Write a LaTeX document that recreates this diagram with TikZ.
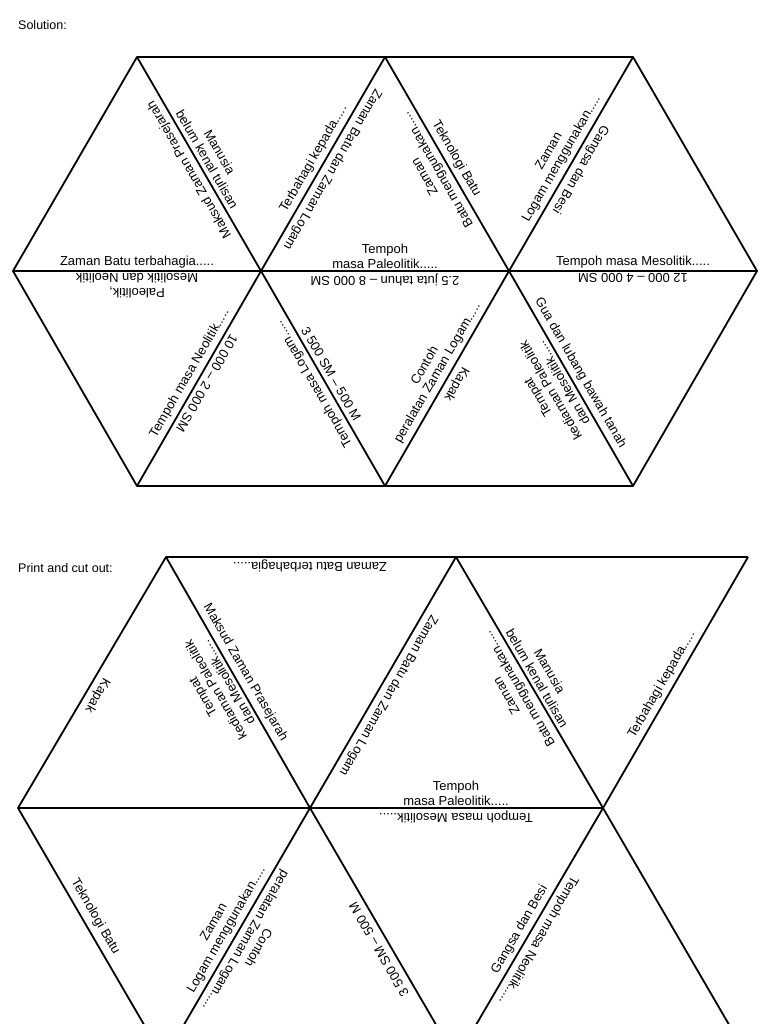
\documentclass[tikz,border=0pt]{standalone}
\usepackage{fontspec}
\setmainfont{Liberation Sans}
\usetikzlibrary{calc}
\newcommand\elab[4]{\begin{scope}[shift={#2},rotate=#3]\node[lbl,transform shape] (#1) at (0,0) {#4};\end{scope}}
\newcommand\hlab[4]{\begin{scope}[shift={#2},rotate=#3]\node[lbl,inner ysep=2.5pt,transform shape] (#1) at (0,0) {#4};\end{scope}}
\begin{document}
\begin{tikzpicture}[x=1pt,y=1pt,
  edge/.style={line width=1.8pt, line join=round},
  lbl/.style={font=\fontsize{13}{14.5}\selectfont, align=center, inner xsep=2pt, inner ysep=4.5pt, anchor=south},
  head/.style={font=\fontsize{12.5}{14}\selectfont, anchor=west, inner sep=0pt}]
\useasboundingbox (0,0) rectangle (768,-1024);
\fill[white] (0,0) rectangle (768,-1024);
\node[head] (sol) at (18,-25) {Solution:};
\node[head] (pc) at (18,-568) {Print and cut out:};
% top hexagon
\coordinate (A0) at (137,-57); \coordinate (A1) at (385,-57); \coordinate (A2) at (633,-57);
\coordinate (B0) at (13,-271); \coordinate (B1) at (261,-271); \coordinate (B2) at (509,-271); \coordinate (B3) at (757,-271);
\coordinate (C0) at (137,-486); \coordinate (C1) at (385,-486); \coordinate (C2) at (633,-486);
\draw[edge] (A0)--(A2)--(B3)--(C2)--(C0)--(B0)--cycle;
\draw[edge] (B0)--(B3);
\draw[edge] (A0)--(B1)--(A1)--(B2)--(A2);
\draw[edge] (C0)--(B1)--(C1)--(B2)--(C2);
\elab{a1}{($(A0)!0.5!(B1)$)}{120}{Maksud Zaman Prasejarah}
\elab{a2}{($(A0)!0.5!(B1)$)}{-60}{Manusia\\belum kenal tulisan}
\elab{a3}{($(A1)!0.5!(B1)$)}{60}{Terbahagi kepada.....}
\elab{a4}{($(A1)!0.5!(B1)$)}{-120}{Zaman Batu dan Zaman Logam}
\elab{a5}{($(A1)!0.5!(B2)$)}{120}{Zaman\\Batu menggunakan.....}
\elab{a6}{($(A1)!0.5!(B2)$)}{-60}{Teknologi Batu}
\elab{a7}{($(A2)!0.5!(B2)$)}{60}{Zaman\\Logam menggunakan.....}
\elab{a8}{($(A2)!0.5!(B2)$)}{-120}{Gangsa dan Besi}
\hlab{a9}{(137,-271)}{0}{Zaman Batu terbahagia.....}
\hlab{a10}{(137,-271)}{180}{Paleolitik,\\Mesolitik dan Neolitik}
\hlab{a11}{(385,-271)}{0}{Tempoh\\masa Paleolitik.....}
\hlab{a12}{(385,-271)}{180}{2.5 juta tahun -- 8 000 SM}
\hlab{a13}{(633,-271)}{0}{Tempoh masa Mesolitik.....}
\hlab{a14}{(633,-271)}{180}{12 000 -- 4 000 SM}
\elab{a15}{($(B1)!0.5!(C0)$)}{60}{Tempoh masa Neolitik.....}
\elab{a16}{($(B1)!0.5!(C0)$)}{-120}{10 000 -- 2 000 SM}
\elab{a17}{($(B1)!0.5!(C1)$)}{120}{Tempoh masa Logam.....}
\elab{a18}{($(B1)!0.5!(C1)$)}{-60}{3 500 SM -- 500 M}
\elab{a19}{($(B2)!0.5!(C1)$)}{60}{Contoh\\peralatan Zaman Logam.....}
\elab{a20}{($(B2)!0.5!(C1)$)}{-120}{Kapak}
\elab{a21}{($(B2)!0.5!(C2)$)}{120}{Tempat\\kediaman Paleolitik\\dan Mesolitik.....}
\elab{a22}{($(B2)!0.5!(C2)$)}{-60}{Gua dan lubang bawah tanah}
% bottom section
\begin{scope}
\clip (0,0) rectangle (768,-1024);
\coordinate (P0) at (166,-557); \coordinate (P1) at (456,-557); \coordinate (P2) at (748,-557);
\coordinate (Q0) at (18,-808); \coordinate (Q1) at (310,-808); \coordinate (Q2) at (603,-808);
\coordinate (R0) at (164,-1059); \coordinate (R1) at (456,-1059); \coordinate (R2) at (749,-1059);
\draw[edge] (P0)--(P2);
\draw[edge] (Q0)--(Q2);
\draw[edge] (Q0)--(P0)--(Q1)--(P1)--(Q2)--(P2);
\draw[edge] (Q0)--(R0)--(Q1)--(R1)--(Q2)--(R2);
\end{scope}
\hlab{b1}{(310,-557)}{180}{Zaman Batu terbahagia.....}
\elab{b2}{(88,-690)}{-120}{Kapak}
\elab{b3}{(236,-678)}{120}{Tempat\\kediaman Paleolitik\\dan Mesolitik.....}
\elab{b4}{(236,-678)}{-60}{Maksud Zaman Prasejarah}
\elab{b5}{(379,-690)}{-120}{Zaman Batu dan Zaman Logam}
\elab{b6}{(529,-683)}{120}{Zaman\\Batu menggunakan.....}
\elab{b7}{(529,-683)}{-60}{Manusia\\belum kenal tulisan}
\elab{b8}{(671,-690)}{60}{Terbahagi kepada.....}
\hlab{b9}{(456,-808)}{0}{Tempoh\\masa Paleolitik.....}
\hlab{b10}{(456,-808)}{180}{Tempoh masa Mesolitik.....}
\elab{b11}{(86,-922)}{-60}{Teknologi Batu}
\elab{b12}{(236,-935)}{60}{Zaman\\Logam menggunakan.....}
\elab{b13}{(236,-935)}{-120}{Contoh\\peralatan Zaman Logam.....}
\elab{b14}{(387,-945)}{120}{3 500 SM -- 500 M}
\elab{b15}{(529,-935)}{60}{Gangsa dan Besi}
\elab{b16}{(529,-935)}{-120}{Tempoh masa Neolitik.....}
\end{tikzpicture}
\end{document}
